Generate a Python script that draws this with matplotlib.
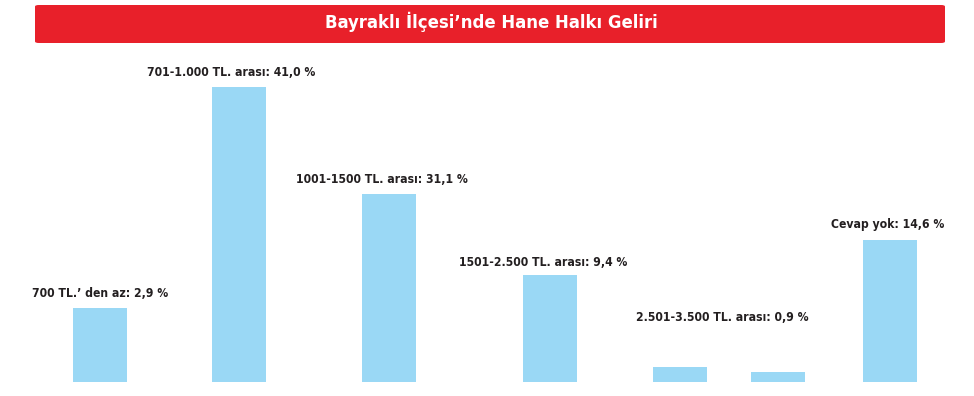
import matplotlib.pyplot as plt
from matplotlib.patches import FancyBboxPatch

# data
labels = ["700 TL.’ den az: 2,9 %",
          "701-1.000 TL. arası: 41,0 %",
          "1001-1500 TL. arası: 31,1 %",
          "1501-2.500 TL. arası: 9,4 %",
          "2.501-3.500 TL. arası: 0,9 %",
          "",
          "Cevap yok: 14,6 %"]
percent = [2.9, 41.0, 31.1, 9.4, 0.9, None, 14.6]
# bar heights as drawn in the original (not proportional to the percentages)
bar_heights = [10.3, 41.0, 26.1, 14.9, 2.1, 1.4, 19.7]
title = "Bayraklı İlçesi’nde Hane Halkı Geliri"

# layout (pixels of the 974 px wide picture)
bar_x = [100, 239, 389, 550, 680, 778, 890]
bar_w = 54
label_dx = [0, -8, -7, -7, 42, 0, -2]
label_dy = [6, 6, 6, 4, 31, 0, 7]   # points above bar top

W, H = 974, 396
fig = plt.figure(figsize=(W / 100, H / 100), dpi=100)
fig.patch.set_facecolor("white")

font = ["DejaVu Sans"]
bar_color = "#9ad8f5"
text_color = "#231f20"

ax = fig.add_axes([0, 14 / H, 1, 295 / H])
ax.bar(bar_x, bar_heights, width=bar_w, color=bar_color)
ax.set_xlim(0, W)
ax.set_ylim(0, 41.0)
ax.axis("off")

for x, h, lab, dx, dy in zip(bar_x, bar_heights, labels, label_dx, label_dy):
    if not lab:
        continue
    ax.annotate(lab, (x, h), xytext=(dx * 0.72, dy), textcoords="offset points",
                ha="center", va="bottom", fontsize=8.7, fontweight="bold",
                fontstretch="condensed", family=font, color=text_color,
                annotation_clip=False)

# red title banner
banner = FancyBboxPatch((35 / W, (H - 43) / H), 910 / W, 38 / H,
                        boxstyle="round,pad=0,rounding_size=0.004",
                        transform=fig.transFigure, facecolor="#e8202a",
                        edgecolor="none")
fig.patches.append(banner)
fig.text(491 / W, (H - 22) / H, title, ha="center", va="center",
         fontsize=13.2, fontweight="bold", fontstretch="condensed",
         family=font, color="white")

fig.savefig("out.png", dpi=100)
